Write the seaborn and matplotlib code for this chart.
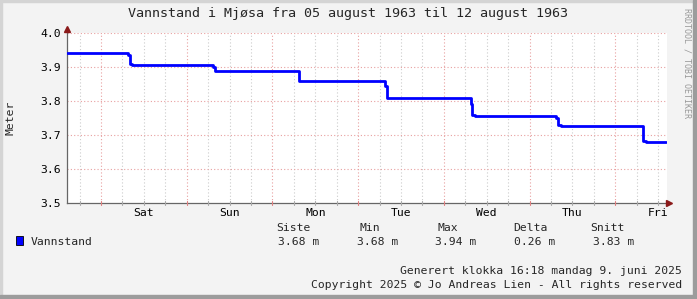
import matplotlib
matplotlib.use("Agg")
import matplotlib.pyplot as plt
from matplotlib.patches import Rectangle
import seaborn as sns
import pandas as pd

# ---- data ----
title = "Vannstand i Mjøsa fra 05 august 1963 til 12 august 1963"
series_name = "Vannstand"
y_label = "Meter"
day_labels = ["Sat", "Sun", "Mon", "Tue", "Wed", "Thu", "Fri"]
# time in days from the left edge of the chart, water level in metres
times = [0.00, 0.712, 0.730, 0.759, 1.704, 1.728, 2.708, 2.766, 3.712, 3.735, 3.770,
         4.716, 4.727, 4.762, 5.708, 5.731, 5.766, 6.723, 6.758, 6.992]
levels = [3.940, 3.935, 3.908, 3.905, 3.901, 3.889, 3.860, 3.858, 3.845, 3.810, 3.808,
          3.790, 3.760, 3.757, 3.750, 3.730, 3.727, 3.683, 3.679, 3.679]
stat_headers = ["Siste", "Min", "Max", "Delta", "Snitt"]
stat_values = ["3.68 m", "3.68 m", "3.94 m", "0.26 m", "3.83 m"]
y_ticks = [3.5, 3.6, 3.7, 3.8, 3.9, 4.0]
footer1 = "Generert klokka 16:18 mandag 9. juni 2025"
footer2 = "Copyright 2025 © Jo Andreas Lien - All rights reserved"
watermark = "RRDTOOL / TOBI OETIKER"

# ---- layout ----
W, H = 697, 299
first_midnight = 0.397
x_max = 7.0

sns.set_theme(style="white")
plt.rcParams["font.family"] = ["DejaVu Sans Mono", "DejaVu Sans"]

fig = plt.figure(figsize=(W / 100, H / 100), dpi=100)
fig.patch.set_facecolor("#f3f3f3")
ax = fig.add_axes([67 / W, 1 - 203 / H, 600 / W, 170 / H])
ax.set_facecolor("white")

# frame
fig.patches.append(Rectangle((0, 0), 2 / W, 1, transform=fig.transFigure, color="#d4d4d4", zorder=0))
fig.patches.append(Rectangle((0, 1 - 2 / H), 1, 2 / H, transform=fig.transFigure, color="#d4d4d4", zorder=0))
fig.patches.append(Rectangle((1 - 4 / W, 0), 4 / W, 1, transform=fig.transFigure, color="#9c9c9c", zorder=0))
fig.patches.append(Rectangle((0, 0), 1, 4 / H, transform=fig.transFigure, color="#9c9c9c", zorder=0))

# grid
d = first_midnight - 0.25 * int(first_midnight / 0.25)
minors = []
while d < x_max:
    minors.append(d)
    d += 0.25
majors = [first_midnight + k for k in range(7) if first_midnight + k < x_max]
for m in minors:
    is_major = any(abs(m - M) < 1e-6 for M in majors)
    ax.axvline(m, color="#e8a0a0" if is_major else "#cccccc", lw=0.8,
               ls=(0, (1, 2)), zorder=1)
for yt in y_ticks[1:]:
    ax.axhline(yt, color="#e8a0a0", lw=0.8, ls=(0, (1, 2)), zorder=1)

df = pd.DataFrame({"t": times, "v": levels})
sns.lineplot(data=df, x="t", y="v", drawstyle="steps-post", color="#0000ff",
             lw=2, ax=ax, estimator=None, sort=False, zorder=3)

ax.set_xlim(0, x_max)
ax.set_ylim(3.5, 4.0)
ax.set_xlabel("")
ax.set_ylabel("")

noons = [M + 0.5 for M in majors]
ax.set_xticks(noons, day_labels[:len(noons)])
ax.tick_params(axis="x", length=0, pad=3.5, labelsize=8.2, colors="black")
ax.set_yticks(y_ticks, [f"{v:.1f}" for v in y_ticks])
ax.tick_params(axis="y", length=3, width=0.8, direction="inout", pad=3,
               labelsize=8.2, color="#666666", labelcolor="black")

for s in ["top", "right"]:
    ax.spines[s].set_visible(False)
for s in ["left", "bottom"]:
    ax.spines[s].set_color("#666666")
    ax.spines[s].set_linewidth(0.9)

# axis tick marks on x
for m in minors:
    is_major = any(abs(m - M) < 1e-6 for M in majors)
    ax.plot([m, m], [3.5 - 0.006, 3.5 + 0.006], color="#e08080" if is_major else "#aaaaaa",
            lw=0.8, clip_on=False, zorder=4)

# arrows
ax.plot([0], [4.012], marker="^", color="#8b1a1a", markersize=4, clip_on=False, zorder=5)
ax.plot([x_max + 0.02], [3.5], marker=">", color="#8b1a1a", markersize=4, clip_on=False, zorder=5)

# texts
fig.text(0.5, 1 - 14 / H, title, ha="center", va="center", fontsize=9.6)
fig.text(11 / W, 1 - 118 / H, y_label, rotation=90, ha="center", va="center", fontsize=8.2)
fig.text(687 / W, 1 - 8 / H, watermark, rotation=270, ha="center", va="top",
         fontsize=6.0, color="#999999")

fig.patches.append(Rectangle((16 / W, 1 - 245 / H), 7 / W, 9 / H, transform=fig.transFigure,
                             facecolor="#0000ff", edgecolor="black", lw=0.6, zorder=3))
fig.text(31 / W, 1 - 242 / H, series_name, ha="left", va="center", fontsize=8.2)
header_x = [276, 360, 437, 513, 590]
value_x = [278, 357, 435, 514, 593]
for hx, h in zip(header_x, stat_headers):
    fig.text(hx / W, 1 - 228 / H, h, ha="left", va="center", fontsize=8.2)
for vx, v in zip(value_x, stat_values):
    fig.text(vx / W, 1 - 242 / H, v, ha="left", va="center", fontsize=8.2)

fig.text(682 / W, 1 - 271 / H, footer1, ha="right", va="center", fontsize=8.2)
fig.text(682 / W, 1 - 285 / H, footer2, ha="right", va="center", fontsize=8.2)

fig.savefig("out.png", dpi=100, facecolor=fig.get_facecolor())
